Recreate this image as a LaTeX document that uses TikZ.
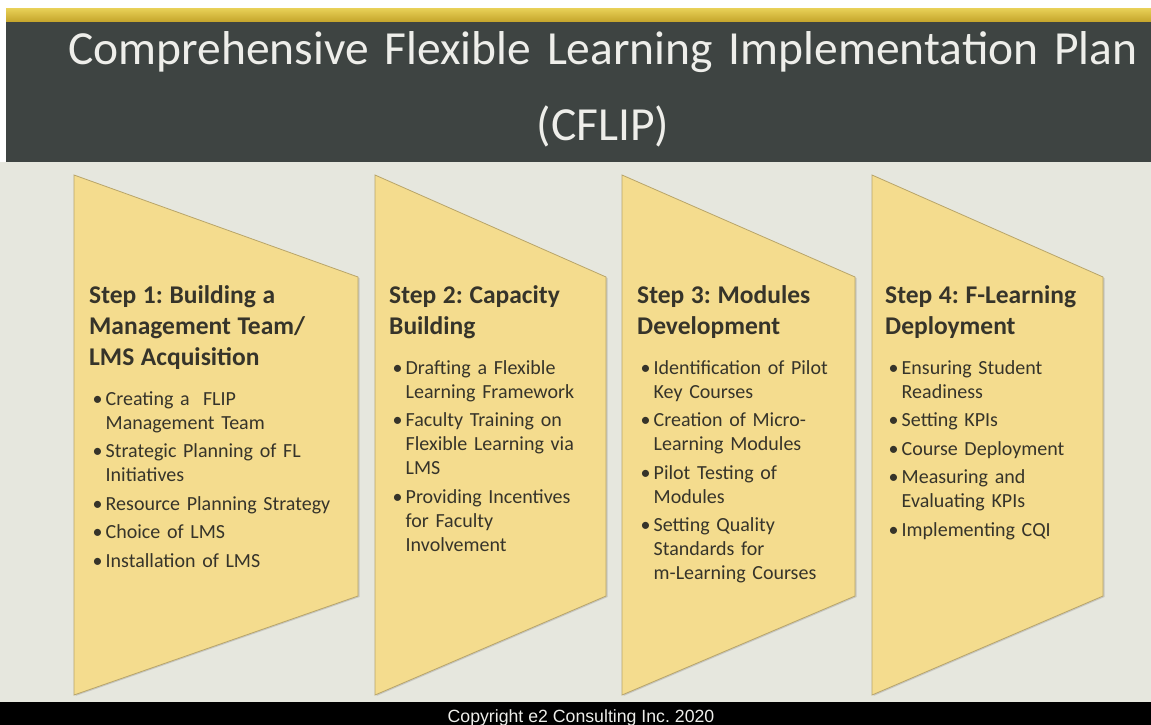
\documentclass[tikz,border=0pt]{standalone}
\usepackage{fontspec}
\setmainfont{Carlito}
\newfontfamily\footfont{Liberation Sans}
\usetikzlibrary{shadows}
\definecolor{board}{HTML}{3E4442}
\definecolor{paper}{HTML}{E6E7DE}
\definecolor{bandtop}{HTML}{E6CE55}
\definecolor{bandbot}{HTML}{C4A42A}
\definecolor{stepfill}{HTML}{F4DC8E}
\definecolor{stepline}{HTML}{B8A56A}
\definecolor{steptext}{HTML}{36342A}
\definecolor{chalk}{HTML}{EEEEEA}
\frenchspacing
\newcommand{\steptitle}[1]{{\fontsize{25.5}{31}\selectfont\bfseries #1\par}\vspace{11.5pt}}
\newcommand{\stepitem}[1]{\par\vspace{4.5pt}\hangindent=16.5pt\hangafter=1\noindent\hspace*{3.5pt}\makebox[13pt][l]{\textbullet}#1\par}
\begin{document}
\begin{tikzpicture}
[
    x=1pt, y=-1pt,
    stepshape/.style={fill=stepfill, draw=stepline, line width=0.8pt,
        drop shadow={shadow xshift=1.5pt, shadow yshift=-1pt, opacity=0.3}},
    steptext/.style={anchor=base west, inner sep=0pt, align=left, text=steptext,
        font=\fontsize{20}{24}\selectfont},
]
\useasboundingbox (0,0) rectangle (1151,725);
\fill[paper] (0,0) rectangle (1151,725);
\fill[white] (0,0) rectangle (1151,9);
\fill[white] (0,9) rectangle (6,162);
\shade[top color=bandtop, bottom color=bandbot] (6,9) rectangle (1151,22);
\fill[board] (6,22) rectangle (1151,162);
\fill[black] (0,702) rectangle (1151,725);
\foreach \l/\r in {74/358, 375/606, 622/855, 872/1103}
    \draw[stepshape] (\l,175) -- (\r,277) -- (\r,596) -- (\l,695) -- cycle;
\node (title) [anchor=base, inner sep=0pt, text width=1140pt, align=center, text=chalk,
    font=\fontsize{47.5}{77}\selectfont] at (603,64)
    {Comprehensive Flexible Learning Implementation Plan\\(CFLIP)};
\node (step1) [steptext, text width=260pt] at (89,303) {\steptitle{Step 1: Building a\\ Management Team/\\ LMS Acquisition}
    \stepitem{Creating a~ FLIP\newline Management Team}
    \stepitem{Strategic Planning of FL\newline Initiatives}
    \stepitem{Resource Planning Strategy}
    \stepitem{Choice of LMS}
    \stepitem{Installation of LMS}};
\node (step2) [steptext, text width=210pt] at (389,303) {\steptitle{Step 2: Capacity\\ Building}
    \stepitem{Drafting a Flexible\newline Learning Framework}
    \stepitem{Faculty Training on\newline Flexible Learning via\newline LMS}
    \stepitem{Providing Incentives\newline for Faculty\newline Involvement}};
\node (step3) [steptext, text width=210pt] at (637,303) {\steptitle{Step 3: Modules\\ Development}
    \stepitem{Identification of Pilot\newline Key Courses}
    \stepitem{Creation of Micro-\newline Learning Modules}
    \stepitem{Pilot Testing of\newline Modules}
    \stepitem{Setting Quality\newline Standards for\newline m-Learning Courses}};
\node (step4) [steptext, text width=210pt] at (885,303) {\steptitle{Step 4: F-Learning\\ Deployment}
    \stepitem{Ensuring Student\newline Readiness}
    \stepitem{Setting KPIs}
    \stepitem{Course Deployment}
    \stepitem{Measuring and\newline Evaluating KPIs}
    \stepitem{Implementing CQI}};
\node (copyright) [anchor=base, inner sep=0pt, text=chalk, font=\footfont\fontsize{17.7}{20}\selectfont]
    at (581,722) {Copyright e2 Consulting Inc. 2020};
\end{tikzpicture}
\end{document}
